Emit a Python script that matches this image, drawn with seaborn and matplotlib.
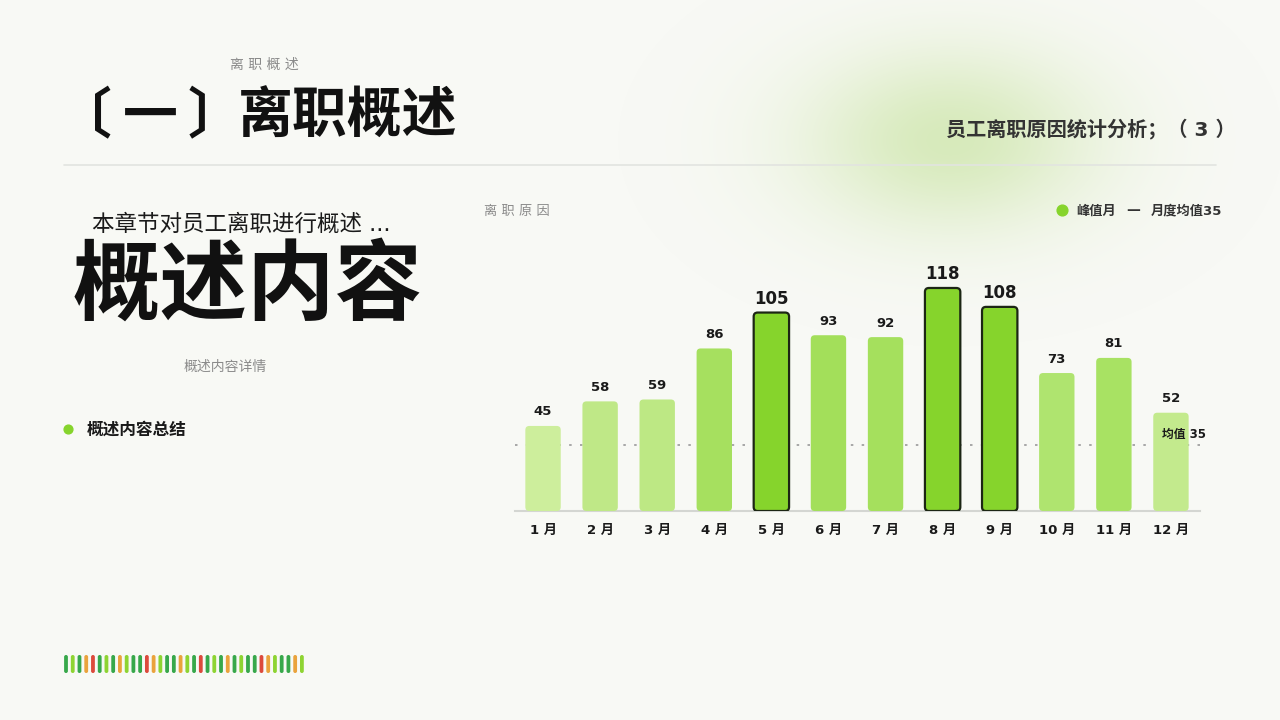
import numpy as np
import pandas as pd
import matplotlib
matplotlib.use("Agg")
import matplotlib.pyplot as plt
import seaborn as sns
from matplotlib.patches import FancyBboxPatch

# data
months = ["1 月", "2 月", "3 月", "4 月", "5 月", "6 月", "7 月", "8 月", "9 月", "10 月", "11 月", "12 月"]
counts = [45, 58, 59, 86, 105, 93, 92, 118, 108, 73, 81, 52]
peak_months = ["5 月", "8 月", "9 月"]
mean_value = 35

# styles
bar_colors = ["#cdee9c", "#bfe887", "#bde884", "#a6e05f", "#86d42c", "#a3df5a",
              "#a5e05d", "#86d42c", "#86d42c", "#afe46f", "#a8e263", "#c3ea8d"]
stripe_colors = {"d": "#37a84a", "l": "#8ed432", "o": "#eaa33c", "r": "#dc4a3c"}
stripe_seq = "dldordldolddroldd" + "oldrdldodlddrolddol"
bg = "#f8f9f5"

sns.set_theme(style="white")
plt.rcParams["font.family"] = ["DejaVu Sans", "Noto Sans CJK SC"]

fig = plt.figure(figsize=(12.8, 7.2), dpi=100)
fig.patch.set_facecolor(bg)

# soft green glow top right
gax = fig.add_axes([0, 0, 1, 1], zorder=0)
gax.set_xlim(0, 1280)
gax.set_ylim(720, 0)
gax.axis("off")
gx, gy = np.meshgrid(np.arange(1280), np.arange(720))
glow = np.exp(-(((gx - 950) / 145.0) ** 2 + ((gy - 140) / 90.0) ** 2))
rgba = np.zeros((720, 1280, 4))
rgba[..., 0] = 0.80
rgba[..., 1] = 0.90
rgba[..., 2] = 0.66
rgba[..., 3] = glow * 0.75
gax.imshow(rgba, extent=(0, 1280, 720, 0), aspect="auto")

# header texts
gax.text(264, 65, "离 职 概 述", fontsize=10, color="#8a8a8a", ha="center", va="center", fontweight="medium")
title_kw = dict(fontsize=39.5, color="#111111", va="center", ha="center", fontweight="bold")
gax.text(84, 118, "〔", **title_kw)
gax.text(150, 118, "一", **title_kw)
gax.text(215, 118, "〕", **title_kw)
gax.text(348, 118, "离职概述", **title_kw)
gax.plot([64, 1216], [165, 165], color="#e2e4e0", lw=1.2)
gax.text(1236, 129, "员工离职原因统计分析；（ 3 ）", fontsize=14.5, color="#333333", ha="right",
         va="center", fontweight="bold")

# left side content
gax.text(92, 224, "本章节对员工离职进行概述 ...", fontsize=16.2, color="#1a1a1a", ha="left", va="center")
gax.text(73, 289, "概述内容", fontsize=63, color="#111111", ha="left", va="center", fontweight="bold")
gax.text(225, 367, "概述内容详情", fontsize=10, color="#8a8a8a", ha="center", va="center")
gax.scatter([68], [429], s=40, color="#86d42c")
gax.text(87, 430, "概述内容总结", fontsize=12, color="#1a1a1a", ha="left", va="center", fontweight="bold")

# stripes bottom left
for i, c in enumerate(stripe_seq):
    x = 66 + i * 6.74
    gax.add_patch(FancyBboxPatch((x - 1.9, 655), 3.8, 18, boxstyle="round,pad=0,rounding_size=1.9",
                                 color=stripe_colors[c], lw=0))

# chart titles & legend
gax.text(484, 211, "离 职 原 因", fontsize=9.5, color="#8a8a8a", ha="left", va="center", fontweight="medium")
gax.scatter([1062], [210], s=60, color="#86d42c")
gax.text(1076, 211, "峰值月", fontsize=9.5, color="#333333", ha="left", va="center", fontweight="bold")
gax.text(1133, 210, "—", fontsize=10, color="#333333", ha="center", va="center", fontweight="bold")
gax.text(1222, 211, "月度均值35", fontsize=9.5, color="#333333", ha="right", va="center", fontweight="bold")

# bar chart
ax = fig.add_axes([514.5 / 1280, (720 - 511) / 720, 685 / 1280, 281 / 720], zorder=2)
ax.set_facecolor("none")
df = pd.DataFrame({"month": months, "count": counts})
sns.barplot(data=df, x="month", y="count", hue="month", palette=bar_colors, legend=False,
            width=0.62, ax=ax, saturation=1)
ax.set_xlim(-0.5, len(months) - 0.5)
ax.set_ylim(0, 281 / 1.89)

# swap rectangles for rounded bars
for patch, m, v in zip(list(ax.patches), months, counts):
    x0, w, h = patch.get_x(), patch.get_width(), patch.get_height()
    fc = patch.get_facecolor()
    patch.remove()
    peak = m in peak_months
    fb = FancyBboxPatch((x0, 0), w, h, boxstyle="round,pad=0,rounding_size=0.07",
                        mutation_aspect=30, facecolor=fc,
                        edgecolor="#1c2614" if peak else "none", lw=1.6 if peak else 0, zorder=3)
    ax.add_patch(fb)
    ax.annotate(str(v), (x0 + w / 2, h), xytext=(0, 14), textcoords="offset pixels",
                ha="center", va="center",
                fontsize=12 if peak else 9.5, fontweight="bold", color="#1a1a1a", zorder=4)

ax.axhline(mean_value, color="#9a9a9a", lw=1.2, ls=(0, (1.5, 5)), zorder=1)
ax.text(11.22, mean_value + 5.5, "均值 35", fontsize=8.5, fontweight="bold", color="#1a1a1a",
        ha="center", va="center", zorder=5)

ax.set_xlabel("")
ax.set_ylabel("")
ax.set_yticks([])
ax.tick_params(axis="x", length=0, pad=9, labelsize=9.5)
for lab in ax.get_xticklabels():
    lab.set_fontweight("bold")
    lab.set_color("#1a1a1a")
for s in ["top", "right", "left"]:
    ax.spines[s].set_visible(False)
ax.spines["bottom"].set_color("#d4d6d2")
ax.spines["bottom"].set_linewidth(1.5)

fig.savefig("out.png", dpi=100, facecolor=bg)
